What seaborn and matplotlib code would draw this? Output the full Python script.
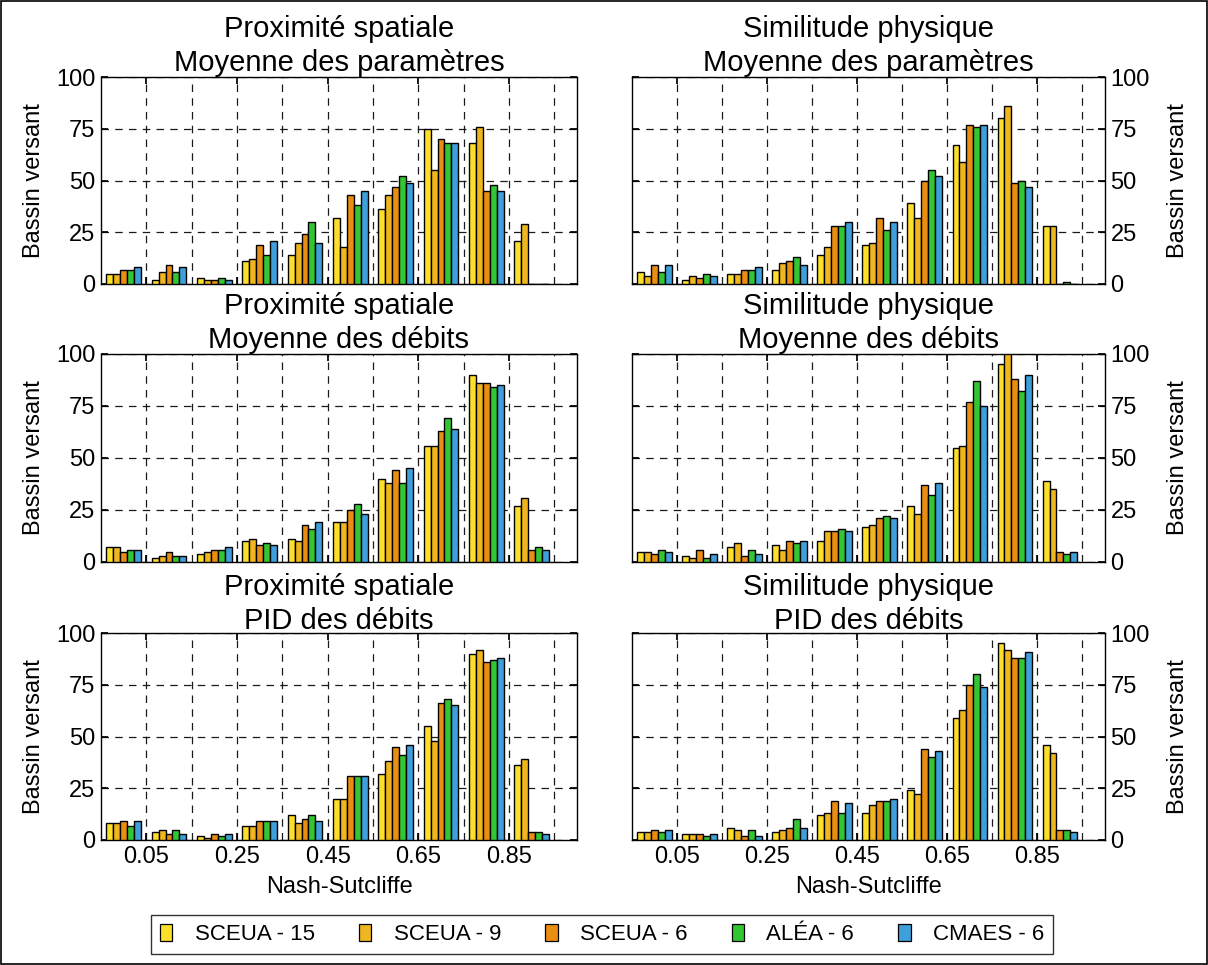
import numpy as np
import pandas as pd
import matplotlib
matplotlib.use("Agg")
import matplotlib.pyplot as plt
import seaborn as sns
from matplotlib.patches import Patch, Rectangle

# ---------------- data ----------------
bins = ["0.0", "0.1", "0.2", "0.3", "0.4", "0.5", "0.6", "0.7", "0.8", "0.9"]
series = ["SCEUA - 15", "SCEUA - 9", "SCEUA - 6", "ALÉA - 6", "CMAES - 6"]
colors = ["#FDDE2A", "#F0B61F", "#EA8D13", "#33C633", "#3F9FDA"]
tick_labels = ["0.05", "0.25", "0.45", "0.65", "0.85"]
yticks = [0, 25, 50, 75, 100]

# rows = series (same order as `series`), columns = bins
ps_param = [
    [5, 2, 3, 11, 14, 32, 36, 75, 68, 21],
    [5, 6, 2, 12, 20, 18, 43, 55, 76, 29],
    [7, 9, 2, 19, 24, 43, 47, 70, 45, 0],
    [7, 6, 3, 14, 30, 38, 52, 68, 48, 0],
    [8, 8, 2, 21, 20, 45, 49, 68, 45, 0],
]
sp_param = [
    [6, 2, 5, 7, 14, 19, 39, 67, 80, 28],
    [4, 4, 5, 10, 18, 20, 32, 59, 86, 28],
    [9, 3, 7, 11, 28, 32, 50, 77, 49, 0],
    [6, 5, 7, 13, 28, 26, 55, 76, 50, 1],
    [9, 4, 8, 9, 30, 30, 52, 77, 47, 0],
]
ps_debit = [
    [7, 2, 4, 10, 11, 19, 40, 56, 90, 27],
    [7, 3, 5, 11, 10, 19, 38, 56, 86, 31],
    [5, 5, 6, 8, 18, 25, 44, 63, 86, 6],
    [6, 3, 6, 9, 16, 28, 38, 69, 84, 7],
    [6, 3, 7, 8, 19, 23, 45, 64, 85, 6],
]
sp_debit = [
    [5, 3, 7, 8, 10, 17, 27, 55, 95, 39],
    [5, 2, 9, 6, 15, 18, 23, 56, 100, 35],
    [4, 6, 3, 10, 15, 21, 37, 77, 88, 5],
    [6, 2, 6, 9, 16, 22, 32, 87, 82, 4],
    [5, 4, 4, 10, 15, 21, 38, 75, 90, 5],
]
ps_pid = [
    [8, 4, 2, 7, 12, 20, 32, 55, 90, 36],
    [8, 5, 1, 7, 8, 20, 38, 48, 92, 39],
    [9, 3, 3, 9, 10, 31, 45, 66, 86, 4],
    [7, 5, 2, 9, 12, 31, 41, 68, 87, 4],
    [9, 3, 3, 9, 9, 31, 46, 65, 88, 3],
]
sp_pid = [
    [4, 3, 6, 4, 12, 13, 24, 59, 95, 46],
    [4, 3, 5, 5, 13, 17, 22, 63, 92, 42],
    [5, 3, 2, 6, 19, 19, 44, 75, 88, 5],
    [4, 2, 5, 10, 13, 19, 40, 80, 88, 5],
    [5, 3, 2, 6, 18, 20, 43, 74, 91, 4],
]

titles = [
    "Proximité spatiale\nMoyenne des paramètres",
    "Similitude physique\nMoyenne des paramètres",
    "Proximité spatiale\nMoyenne des débits",
    "Similitude physique\nMoyenne des débits",
    "Proximité spatiale\nPID des débits",
    "Similitude physique\nPID des débits",
]
panels = [ps_param, sp_param, ps_debit, sp_debit, ps_pid, sp_pid]

# ---------------- style ----------------
sns.set_theme(style="ticks")
plt.rcParams["font.family"] = ["Liberation Sans", "DejaVu Sans"]
plt.rcParams["text.color"] = "black"
plt.rcParams["axes.labelcolor"] = "black"
plt.rcParams["xtick.color"] = "black"
plt.rcParams["ytick.color"] = "black"

W, H = 1208, 965
fig = plt.figure(figsize=(W / 100, H / 100), dpi=100)
fig.patch.set_facecolor("white")

# axes positions in pixels (left, top, right, bottom)
col_x = [(101, 577), (632, 1105)]
row_y = [(77, 284), (354, 562), (633, 840)]

def make_df(mat):
    rows = []
    for s, vals in zip(series, mat):
        for b, v in zip(bins, vals):
            rows.append({"bin": b, "series": s, "value": v})
    return pd.DataFrame(rows)

for i, (mat, title) in enumerate(zip(panels, titles)):
    r, c = divmod(i, 2)
    x0, x1 = col_x[c]
    y0, y1 = row_y[r]
    ax = fig.add_axes([x0 / W, 1 - y1 / H, (x1 - x0) / W, (y1 - y0) / H])
    df = make_df(mat)
    sns.barplot(data=df, x="bin", y="value", hue="series", order=bins,
                hue_order=series, palette=colors, width=0.77, dodge=True,
                edgecolor="black", linewidth=1.0, saturation=1,
                legend=False, ax=ax, zorder=3)
    ax.set_xlim(-0.5, 10.0)
    ax.set_ylim(0, 100)
    ax.set_yticks(yticks)
    ax.set_xticks([0.5, 2.5, 4.5, 6.5, 8.5])
    ax.set_xticks([1.5, 3.5, 5.5, 7.5, 9.5], minor=True)
    ax.set_axisbelow(True)
    ax.grid(True, which="both", axis="x", color="#1a1a1a", linestyle=(0, (6, 5)), linewidth=0.9)
    ax.grid(True, which="major", axis="y", color="#1a1a1a", linestyle=(0, (6, 5)), linewidth=0.9)
    for sp in ax.spines.values():
        sp.set_visible(True)
        sp.set_color("black")
        sp.set_linewidth(1.0)
    ax.tick_params(axis="both", which="major", direction="in", length=5,
                   labelsize=17, colors="black", pad=4)
    ax.tick_params(axis="x", which="minor", length=0)
    ax.tick_params(axis="x", top=True, bottom=True)
    ax.set_title(title, fontsize=21, pad=3, linespacing=1.25)
    if r == 2:
        ax.set_xticklabels(tick_labels)
        ax.set_xlabel("Nash-Sutcliffe", fontsize=17, labelpad=6)
    else:
        ax.set_xticklabels([])
        ax.set_xlabel("")
    if c == 0:
        ax.tick_params(axis="y", left=True, right=True, labelleft=True, labelright=False)
        ax.set_ylabel("Bassin versant", fontsize=17, labelpad=8)
    else:
        ax.tick_params(axis="y", left=True, right=True, labelleft=False, labelright=True)
        ax.yaxis.set_label_position("right")
        ax.set_ylabel("Bassin versant", fontsize=17, labelpad=12)

handles = [Patch(facecolor=col, edgecolor="black", linewidth=0.9, label=s)
           for col, s in zip(colors, series)]
leg = fig.legend(handles=handles, loc="center", bbox_to_anchor=(0.4985, 0.0315),
                 ncol=5, frameon=True, fancybox=False, fontsize=16,
                 handlelength=0.55, handleheight=0.8, handletextpad=1.0,
                 columnspacing=2.0, borderpad=0.4)
leg.get_frame().set_edgecolor("black")
leg.get_frame().set_linewidth(1.0)

fig.add_artist(Rectangle((0.0008, 0.001), 0.9984, 0.998, transform=fig.transFigure,
                         fill=False, edgecolor="black", linewidth=1.2))

fig.savefig("out.png", dpi=100, facecolor="white")
